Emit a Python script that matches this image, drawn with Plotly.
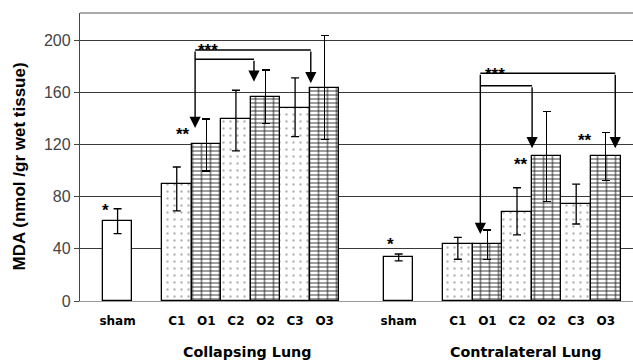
import plotly.graph_objects as go

# ---------------- data ----------------
categories = ["sham", "C1", "O1", "C2", "O2", "C3", "O3"]
group_names = ["Collapsing Lung", "Contralateral Lung"]

collapsing_mean = [61.2, 89.5, 120.0, 139.5, 156.5, 148.0, 163.5]
collapsing_err_plus = [9.5, 13.2, 19.5, 22.0, 20.5, 23.0, 40.0]
collapsing_err_minus = [9.5, 20.5, 20.4, 24.5, 20.5, 22.0, 40.0]

contralateral_mean = [33.5, 43.4, 43.4, 68.0, 111.3, 74.0, 111.3]
contralateral_err_plus = [2.5, 5.4, 11.0, 18.8, 34.0, 15.5, 17.7]
contralateral_err_minus = [2.8, 11.4, 11.4, 17.4, 35.0, 15.0, 19.0]

y_ticks = [0, 40, 80, 120, 160, 200]

# ---------------- layout helpers ----------------
slot_in_group = [0, 2, 3, 4, 5, 6, 7]
group_offset = [0.0, 9.5]
kind = ["sham", "C", "O", "C", "O", "C", "O"]

means = [collapsing_mean, contralateral_mean]
eplus = [collapsing_err_plus, contralateral_err_plus]
eminus = [collapsing_err_minus, contralateral_err_minus]

xs = {"sham": [], "C": [], "O": []}
ys = {"sham": [], "C": [], "O": []}
ep = {"sham": [], "C": [], "O": []}
em = {"sham": [], "C": [], "O": []}
tickvals, ticktext = [], []
for g in range(2):
    for i, cat in enumerate(categories):
        x = group_offset[g] + slot_in_group[i]
        k = kind[i]
        xs[k].append(x)
        ys[k].append(means[g][i])
        ep[k].append(eplus[g][i])
        em[k].append(eminus[g][i])
        tickvals.append(x)
        ticktext.append(cat)

BAR_W = 1.0
OUTLINE = dict(color="black", width=1.3)
ERR = lambda k: dict(type="data", symmetric=False, array=ep[k], arrayminus=em[k],
                     color="black", thickness=1.3, width=4)

fig = go.Figure()
# sham: plain white
fig.add_trace(go.Bar(x=xs["sham"], y=ys["sham"], width=BAR_W,
                     marker=dict(color="white", line=OUTLINE),
                     error_y=ERR("sham"), showlegend=False))
# C: dotted
fig.add_trace(go.Bar(x=xs["C"], y=ys["C"], width=BAR_W,
                     marker=dict(color="white", line=OUTLINE,
                                 pattern=dict(shape=".", size=7, solidity=0.09,
                                              fgcolor="#6a6a6a", bgcolor="white")),
                     error_y=ERR("C"), showlegend=False))
# O: brick-like (horizontal courses + vertical joints)
fig.add_trace(go.Bar(x=xs["O"], y=ys["O"], width=BAR_W,
                     marker=dict(color="white", line=OUTLINE,
                                 pattern=dict(shape="-", size=4, solidity=0.42,
                                              fgcolor="#1a1a1a", bgcolor="white")),
                     showlegend=False))
fig.add_trace(go.Bar(x=xs["O"], y=ys["O"], width=BAR_W,
                     marker=dict(color="rgba(0,0,0,0)", line=dict(width=0),
                                 pattern=dict(shape="|", size=9, solidity=0.2,
                                              fgcolor="#1a1a1a", fillmode="overlay")),
                     error_y=ERR("O"), showlegend=False))

# ---------------- brackets with arrows ----------------
brackets = [
    dict(x0=2.62, tip0=132.6, levels=[(192.4, 6.53, 166.9), (185.3, 4.61, 168.1)]),
    dict(x0=12.26, tip0=51.4, levels=[(174.5, 16.82, 117.0), (165.0, 14.01, 117.0)]),
]
shapes = []
annotations = []
for b in brackets:
    top = max(l[0] for l in b["levels"])
    annotations.append(dict(x=b["x0"], y=b["tip0"], ax=b["x0"], ay=top,
                            xref="x", yref="y", axref="x", ayref="y", text="",
                            showarrow=True, arrowhead=2, arrowsize=1.6,
                            arrowwidth=1.4, arrowcolor="black"))
    for (ly, tx, tip) in b["levels"]:
        shapes.append(dict(type="line", xref="x", yref="y", x0=b["x0"], x1=tx,
                           y0=ly, y1=ly, line=dict(color="black", width=1.4)))
        annotations.append(dict(x=tx, y=tip, ax=tx, ay=ly,
                                xref="x", yref="y", axref="x", ayref="y", text="",
                                showarrow=True, arrowhead=2, arrowsize=1.6,
                                arrowwidth=1.4, arrowcolor="black"))

# significance stars
stars = [(-0.42, 72.8, "*"), (2.2, 131, "**"), (3.06, 194.9, "***"),
         (12.77, 177, "***"), (13.62, 108, "**"), (15.8, 126.4, "**"),
         (9.23, 46.2, "*")]
for (sx, sy, s) in stars:
    annotations.append(dict(x=sx, y=sy, xref="x", yref="y", showarrow=False,
                            text=s, yshift=-4,
                            font=dict(family="Liberation Sans", size=17, color="black",
                                      weight="bold")))

# group titles
for g, name in enumerate(group_names):
    annotations.append(dict(x=group_offset[g] + 4.4 - 0.1 * g, y=-0.176, xref="x", yref="paper",
                            showarrow=False, text=name, yanchor="middle",
                            font=dict(family="DejaVu Sans", size=14.3, color="black", weight="bold")))

# y-axis title
annotations.append(dict(x=-0.1085, y=0.467, xref="paper", yref="paper", showarrow=False,
                        text="MDA (nmol /gr wet tissue)", textangle=-90,
                        xanchor="center", yanchor="middle",
                        font=dict(family="Liberation Sans", size=17, color="black", weight="bold")))

# top border
shapes.append(dict(type="line", xref="paper", yref="paper", x0=0, x1=1, y0=1, y1=1,
                   line=dict(color="#555555", width=1.2)))

fig.update_layout(
    width=633, height=360,
    margin=dict(l=80, r=0, t=13, b=59),
    paper_bgcolor="white", plot_bgcolor="white",
    barmode="overlay", bargap=0,
    shapes=shapes, annotations=annotations,
    xaxis=dict(range=[-1.27, 17.42], tickvals=tickvals, ticktext=ticktext,
               showgrid=False, zeroline=False, showline=True, linecolor="#9a9a9a",
               linewidth=1.3, ticks="", ticklabelstandoff=8,
               tickfont=dict(family="DejaVu Sans", size=12, color="black", weight="bold")),
    yaxis=dict(range=[0, 220.7], tickvals=y_ticks, showgrid=True, gridcolor="#3a3a3a",
               gridwidth=1, zeroline=False, showline=True, linecolor="#444444",
               linewidth=1.3, ticks="outside", ticklen=5, tickcolor="#444444",
               tickfont=dict(family="Liberation Sans", size=16, color="#444444")),
)

fig.write_html("out.html", config={"displayModeBar": False},
               post_script="document.body.style.margin='0px';document.body.style.overflow='hidden';")
